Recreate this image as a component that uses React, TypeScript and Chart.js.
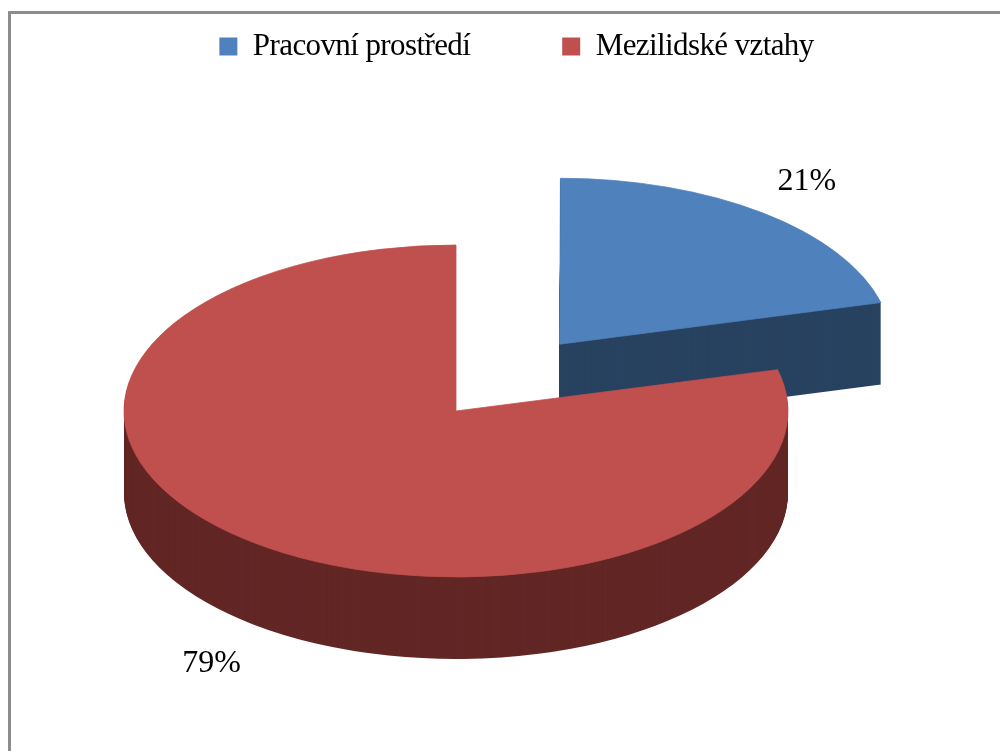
import React, { useEffect, useRef } from "react";
import { Chart, registerables } from "chart.js";

Chart.register(...registerables);

const categories = ["Pracovní prostředí", "Mezilidské vztahy"];
const shares = [21, 79];
const topColors = ["#4F81BD", "#C0504D"];
const sideColors = ["#284260", "#622725"];
// Only the first slice is pulled away from the pie.
const explosion = [676, 0];
// Fine adjustment of the percentage labels from their radial position.
const labelShiftX = [-6, 9];
const labelShiftY = [1, 7];

const PIE_RADIUS = 332;
const TILT = 0.5;
const DEPTH = 82;
const PIE_X = 456;
const PIE_Y = 411;
const LABEL_RADIUS = 1.245;
const SERIF = '"Liberation Serif", serif';
const LEGEND_TRACKING = "-0.6px";

// Squashes the flat pie into an ellipse and stacks darker copies under it for the rim.
const tiltedPie = {
  id: "tiltedPie",
  beforeUpdate(chart: any) {
    chart.ctx.letterSpacing = LEGEND_TRACKING;
  },
  beforeDraw(chart: any) {
    chart.ctx.letterSpacing = LEGEND_TRACKING;
  },
  // The arc grows its radius when offset; keep every slice on the same radius.
  afterDatasetUpdate(chart: any) {
    chart.getDatasetMeta(0).data.forEach((arc: any, i: number) => {
      const fix = 1 - Math.sin(Math.min(Math.PI, arc.circumference));
      arc.outerRadius = PIE_RADIUS - (explosion[i] / 4) * fix;
    });
  },
  beforeDatasetsDraw(chart: any) {
    const { ctx } = chart;
    const arcs = chart.getDatasetMeta(0).data;
    arcs.forEach((arc: any, i: number) => {
      const paintAt = (drop: number, color: string, edge: number) => {
        const saved = arc.options;
        arc.options = { ...saved, backgroundColor: color, borderColor: color, borderWidth: edge };
        ctx.save();
        ctx.translate(PIE_X, PIE_Y + drop);
        ctx.scale(1, TILT);
        ctx.translate(-arc.x, -arc.y);
        arc.draw(ctx);
        ctx.restore();
        arc.options = saved;
      };
      for (let drop = DEPTH; drop > 0; drop--) paintAt(drop, sideColors[i], 0);
      paintAt(0, topColors[i], 1);
    });
    const total = shares.reduce((a, b) => a + b, 0);
    ctx.save();
    ctx.letterSpacing = "0px";
    ctx.font = `32px ${SERIF}`;
    ctx.fillStyle = "#000";
    ctx.textAlign = "center";
    ctx.textBaseline = "middle";
    arcs.forEach((arc: any, i: number) => {
      const mid = (arc.startAngle + arc.endAngle) / 2;
      const r = PIE_RADIUS * LABEL_RADIUS + explosion[i] / 4;
      const x = PIE_X + Math.cos(mid) * r + labelShiftX[i];
      const lift = Math.sin(mid) > 0 ? DEPTH : 0;
      const y = PIE_Y + Math.sin(mid) * r * TILT + lift + labelShiftY[i];
      ctx.fillText(`${Math.round((shares[i] / total) * 100)}%`, x, y);
    });
    ctx.restore();
    return false;
  },
};

export default function App() {
  const ref = useRef<HTMLCanvasElement>(null);
  useEffect(() => {
    const chart = new Chart(ref.current!, {
      type: "pie",
      data: {
        labels: categories,
        datasets: [
          {
            data: shares,
            backgroundColor: topColors,
            offset: explosion,
            borderWidth: 0,
          },
        ],
      },
      plugins: [tiltedPie],
      options: {
        responsive: false,
        animation: false,
        radius: PIE_RADIUS,
        cutout: "0%",
        layout: { padding: { top: -61, left: 33, right: 0 } },
        plugins: {
          tooltip: { enabled: false },
          legend: {
            position: "top",
            labels: {
              boxWidth: 18,
              boxHeight: 18,
              padding: 92,
              color: "#000",
              font: { family: SERIF, size: 31 },
            },
          },
        },
      },
    } as any);
    return () => chart.destroy();
  }, []);

  return (
    <div style={{ position: "fixed", left: 0, top: 0, width: 1000, height: 751, overflow: "hidden", background: "#fff" }}>
      <div
        style={{
          position: "absolute",
          left: 8,
          top: 11,
          right: 0,
          bottom: 0,
          borderTop: "3px solid #8C8C8C",
          borderLeft: "3px solid #8C8C8C",
        }}
      />
      <canvas ref={ref} width={1000} height={751} style={{ position: "absolute", left: 0, top: 0 }} />
    </div>
  );
}
